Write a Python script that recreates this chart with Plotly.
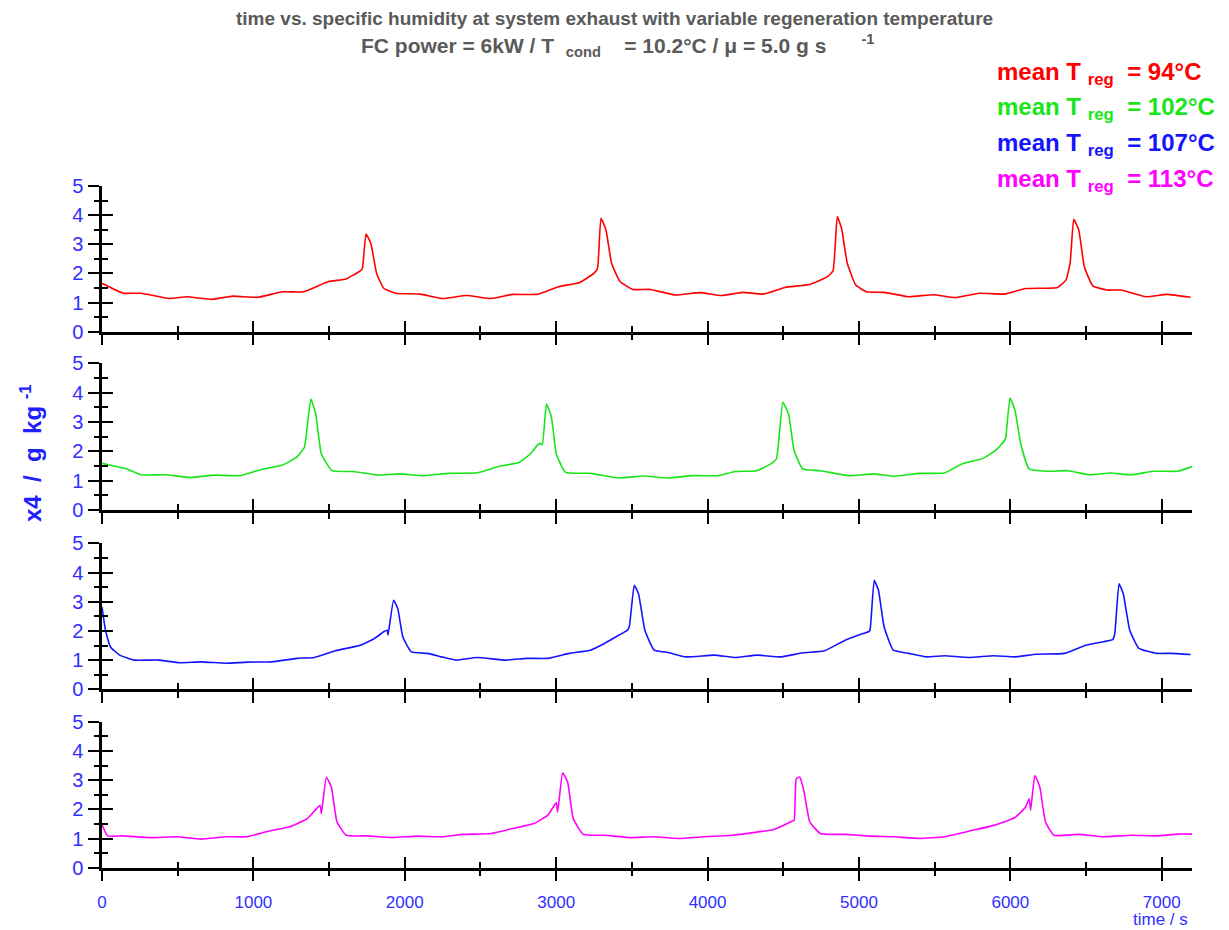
import plotly.graph_objects as go

# ---------------- data ----------------
t_94 = [0, 140, 257, 444, 561, 725, 865, 1029, 1192, 1332, 1496, 1613, 1706, 1720, 1744, 1776, 1814, 1861,
        1940, 2104, 2244, 2408, 2571, 2712, 2875, 3015, 3156, 3249, 3273, 3296, 3329, 3366, 3422, 3506,
        3623, 3787, 3950, 4091, 4231, 4371, 4511, 4675, 4792, 4829, 4857, 4885, 4923, 4979, 5049, 5166,
        5330, 5493, 5633, 5797, 5960, 6101, 6311, 6367, 6395, 6419, 6452, 6489, 6545, 6639, 6732, 6896,
        7036, 7190]
x4_94 = [1.66, 1.32, 1.32, 1.14, 1.20, 1.11, 1.22, 1.18, 1.37, 1.37, 1.72, 1.81, 2.09, 2.17, 3.35, 3.03, 2.0,
         1.49, 1.32, 1.29, 1.14, 1.24, 1.14, 1.28, 1.28, 1.54, 1.69, 2.0, 2.17, 3.89, 3.49, 2.35, 1.72, 1.45,
         1.45, 1.26, 1.34, 1.24, 1.35, 1.29, 1.52, 1.62, 1.89, 2.09, 3.95, 3.55, 2.35, 1.60, 1.37, 1.35,
         1.20, 1.27, 1.17, 1.32, 1.29, 1.48, 1.52, 1.77, 2.35, 3.86, 3.49, 2.23, 1.57, 1.43, 1.43, 1.20,
         1.28, 1.18]

t_102 = [0, 94, 164, 257, 421, 584, 748, 912, 1052, 1192, 1286, 1337, 1379, 1412, 1449, 1519, 1660, 1823,
         1964, 2127, 2291, 2478, 2618, 2758, 2828, 2889, 2908, 2936, 2969, 3001, 3062, 3226, 3413, 3576,
         3740, 3904, 4067, 4184, 4325, 4418, 4455, 4497, 4535, 4572, 4628, 4745, 4932, 5096, 5236, 5400,
         5563, 5680, 5820, 5900, 5961, 5970, 5998, 6031, 6069, 6124, 6241, 6382, 6522, 6662, 6803, 6942,
         7106, 7200]
x4_102 = [1.59, 1.48, 1.40, 1.20, 1.20, 1.11, 1.19, 1.17, 1.38, 1.53, 1.80, 2.14, 3.78, 3.27, 1.91, 1.34,
          1.31, 1.19, 1.23, 1.17, 1.25, 1.27, 1.48, 1.63, 1.91, 2.27, 2.23, 3.61, 3.16, 1.91, 1.28, 1.25,
          1.09, 1.16, 1.09, 1.17, 1.17, 1.31, 1.34, 1.57, 1.74, 3.67, 3.27, 2.02, 1.40, 1.34, 1.17, 1.23,
          1.15, 1.25, 1.26, 1.57, 1.76, 2.02, 2.36, 2.48, 3.82, 3.39, 2.25, 1.40, 1.32, 1.34, 1.20, 1.26,
          1.20, 1.32, 1.32, 1.48]

t_107 = [0, 23, 56, 117, 210, 374, 514, 655, 818, 958, 1122, 1286, 1403, 1543, 1706, 1800, 1861, 1884, 1889,
         1926, 1954, 1987, 2043, 2151, 2244, 2338, 2478, 2665, 2805, 2945, 3086, 3226, 3319, 3413, 3469,
         3483, 3516, 3544, 3586, 3647, 3740, 3857, 4044, 4184, 4325, 4488, 4628, 4769, 4909, 5026, 5063,
         5073, 5101, 5129, 5166, 5227, 5330, 5447, 5563, 5727, 5890, 6031, 6171, 6358, 6498, 6615, 6676,
         6690, 6718, 6746, 6789, 6849, 6966, 7060, 7190]
x4_107 = [2.82, 2.02, 1.45, 1.17, 1.0, 1.0, 0.91, 0.94, 0.89, 0.93, 0.94, 1.06, 1.09, 1.32, 1.51, 1.74, 1.97,
          2.02, 1.85, 3.05, 2.76, 1.80, 1.28, 1.23, 1.11, 1.0, 1.09, 1.0, 1.06, 1.06, 1.23, 1.34, 1.57,
          1.85, 2.02, 2.14, 3.56, 3.27, 2.02, 1.34, 1.26, 1.11, 1.17, 1.09, 1.17, 1.11, 1.25, 1.31, 1.68,
          1.91, 1.97, 2.02, 3.73, 3.39, 2.14, 1.34, 1.23, 1.11, 1.15, 1.09, 1.15, 1.11, 1.20, 1.23, 1.51,
          1.63, 1.70, 1.91, 3.61, 3.27, 2.02, 1.40, 1.23, 1.23, 1.19]

t_113 = [0, 37, 140, 327, 491, 655, 818, 958, 1099, 1239, 1356, 1440, 1449, 1482, 1515, 1552, 1613, 1753,
         1917, 2080, 2244, 2384, 2571, 2712, 2852, 2945, 3001, 3010, 3043, 3076, 3113, 3179, 3319, 3483,
         3647, 3811, 3974, 4161, 4301, 4441, 4558, 4572, 4586, 4610, 4638, 4675, 4745, 4909, 5073, 5236,
         5400, 5563, 5750, 5890, 6031, 6101, 6124, 6134, 6162, 6195, 6232, 6288, 6452, 6615, 6803, 6966,
         7106, 7200]
x4_113 = [1.48, 1.09, 1.09, 1.03, 1.06, 0.98, 1.06, 1.06, 1.25, 1.40, 1.68, 2.14, 1.85, 3.10, 2.76, 1.57,
          1.11, 1.09, 1.03, 1.08, 1.06, 1.14, 1.17, 1.34, 1.51, 1.80, 2.23, 1.91, 3.25, 2.93, 1.68, 1.14,
          1.11, 1.03, 1.06, 1.0, 1.06, 1.11, 1.20, 1.31, 1.59, 1.62, 3.05, 3.10, 2.59, 1.57, 1.17, 1.14,
          1.08, 1.06, 1.0, 1.06, 1.28, 1.45, 1.72, 2.08, 2.36, 1.97, 3.16, 2.76, 1.57, 1.11, 1.14, 1.06,
          1.11, 1.09, 1.15, 1.15]

series_names = ["94", "102", "107", "113"]
series_colors = ["#ff0000", "#19e619", "#1414ff", "#ff00ff"]
series_t = [t_94, t_102, t_107, t_113]
series_y = [x4_94, x4_102, x4_107, x4_113]

x_ticks = [0, 1000, 2000, 3000, 4000, 5000, 6000, 7000]
y_ticks = [0, 1, 2, 3, 4, 5]

NB = "\u00a0"
title_line1 = "time vs. specific humidity at system exhaust with variable regeneration temperature"
title_line2 = ("FC power = 6kW / T" + NB * 2 + "<sub>cond</sub>" + NB * 4 + "= 10.2°C / μ = 5.0 g s"
               + NB * 6 + "<sup>-1</sup>")
y_title = "x4" + NB * 2 + "/" + NB * 2 + "g" + NB * 2 + "kg" + NB + "<sup>-1</sup>"
x_title = "time / s"

# ---------------- layout helpers ----------------
W, H = 1229, 930
FONT = "Arial, 'Liberation Sans', sans-serif"
TICK_BLUE = "#3030ff"

x_dom = [102 / W, 1192 / W]
panel_px = [(186, 331.7), (363.3, 510.0), (543.3, 689.3), (721.7, 867.7)]

fig = go.Figure()
layout = dict(
    width=W, height=H, autosize=False,
    margin=dict(l=0, r=0, t=0, b=0, pad=0, autoexpand=False),
    paper_bgcolor="white", plot_bgcolor="white",
    showlegend=False,
    font=dict(family=FONT),
)

for i in range(4):
    n = i + 1
    ov = i + 5
    xs = "" if n == 1 else str(n)
    top, bot = panel_px[i]
    y_dom = [1 - bot / H, 1 - top / H]
    fig.add_trace(go.Scatter(
        x=series_t[i], y=series_y[i], mode="lines",
        line=dict(color=series_colors[i], width=1.6, shape="spline", smoothing=0.4),
        name="mean T reg = " + series_names[i] + "°C",
        xaxis="x" + xs, yaxis="y" + xs,
    ))
    # invisible copy on the overlay axes so that they are drawn (crossing ticks)
    fig.add_trace(go.Scatter(
        x=series_t[i], y=series_y[i], mode="lines", opacity=0, hoverinfo="skip",
        line=dict(color=series_colors[i], width=0.1),
        xaxis="x" + str(ov), yaxis="y" + str(ov), showlegend=False,
    ))
    common_x = dict(range=[0, 7200], tickvals=x_ticks, ticklen=11, tickwidth=2, tickcolor="black",
                    showgrid=False, zeroline=False, fixedrange=True, automargin=False)
    minor_x = dict(dtick=500, tick0=0, ticklen=6, tickwidth=2, tickcolor="black", showgrid=False)
    common_y = dict(range=[0, 5], tickvals=y_ticks, ticklen=11, tickwidth=2, tickcolor="black",
                    showgrid=False, zeroline=False, fixedrange=True, automargin=False)
    minor_y = dict(dtick=0.5, tick0=0, ticklen=5.5, tickwidth=2, tickcolor="black", showgrid=False)
    # main axes (outside ticks)
    layout["xaxis" + xs] = dict(common_x, domain=x_dom, anchor="y" + xs, ticks="outside",
                                minor=dict(minor_x, ticks="outside"),
                                showline=True, linecolor="black", linewidth=2.5,
                                showticklabels=(n == 4), ticklabelstandoff=6,
                                tickfont=dict(family=FONT, size=17, color=TICK_BLUE))
    layout["yaxis" + xs] = dict(common_y, domain=y_dom, anchor="x" + xs, ticks="outside",
                                minor=dict(minor_y, ticks="outside"),
                                showline=True, linecolor="black", linewidth=2.5,
                                showticklabels=True, ticklabelstandoff=1,
                                tickfont=dict(family=FONT, size=20, color=TICK_BLUE))
    # overlay axes (inside ticks) -> crossing tick marks
    layout["xaxis" + str(ov)] = dict(common_x, overlaying="x" + xs, anchor="y" + str(ov), side="bottom",
                                     ticks="inside", minor=dict(minor_x, ticks="inside"),
                                     showline=False, showticklabels=False)
    layout["yaxis" + str(ov)] = dict(common_y, overlaying="y" + xs, anchor="x" + str(ov), side="left",
                                     ticks="inside", minor=dict(minor_y, ticks="inside"),
                                     showline=False, showticklabels=False)

annotations = [
    dict(text="<b>" + title_line1 + "</b>", x=0.5, y=1 - 18 / H, xref="paper", yref="paper",
         xanchor="center", yanchor="middle", showarrow=False,
         font=dict(family=FONT, size=19, color="#5a5a5a")),
    dict(text="<b>" + title_line2 + "</b>", x=617 / W, y=1 - 46 / H, xref="paper", yref="paper",
         xanchor="center", yanchor="middle", showarrow=False,
         font=dict(family=FONT, size=21, color="#5a5a5a")),
    dict(text="<b>" + y_title + "</b>", x=31 / W, y=1 - 453 / H, xref="paper", yref="paper",
         xanchor="center", yanchor="middle", textangle=-90, showarrow=False,
         font=dict(family=FONT, size=24, color="#2020ff")),
    dict(text=x_title, x=1160 / W, y=1 - 919 / H, xref="paper", yref="paper",
         xanchor="center", yanchor="middle", showarrow=False,
         font=dict(family=FONT, size=17, color=TICK_BLUE)),
]
legend_y = [73, 109, 145, 181]
for i in range(4):
    annotations.append(dict(
        text="<b>mean T" + NB + "<sub>reg</sub>" + NB + " = " + series_names[i] + "°C</b>",
        x=995 / W, y=1 - legend_y[i] / H, xref="paper", yref="paper",
        xanchor="left", yanchor="middle", showarrow=False,
        font=dict(family=FONT, size=24, color=series_colors[i])))
layout["annotations"] = annotations

fig.update_layout(**layout)
fig.write_html("out.html", config={"displayModeBar": False},
               post_script="document.body.style.margin='0';document.body.style.overflow='hidden';")
